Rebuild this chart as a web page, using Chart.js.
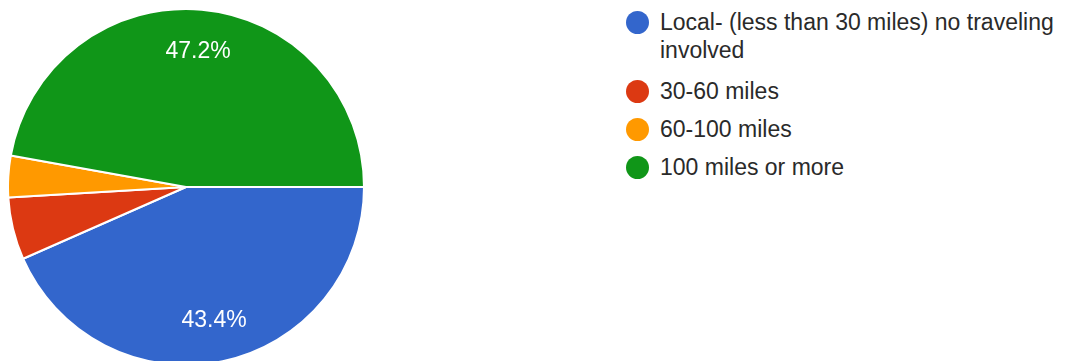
<!DOCTYPE html>
<html>
<head>
<meta charset="utf-8">
<script src="https://cdn.jsdelivr.net/npm/chart.js@4"></script>
<style>
  html, body { margin: 0; padding: 0; background: #fff; overflow: hidden; }
  body { width: 1079px; height: 361px; position: relative; font-family: "Liberation Sans", Arial, sans-serif; }
  #pieBox { position: absolute; left: 7px; top: 8px; width: 358px; height: 358px; }
  #legend { position: absolute; left: 625px; top: 8px; width: 450px; margin: 0; padding: 0; list-style: none; }
  #legend li { position: relative; padding-left: 35px; font-size: 23px; line-height: 28px; color: #2a2a2a; margin-bottom: 10px; }
  #legend li:first-child { margin-bottom: 13px; }
  #legend li span { position: absolute; left: 1px; top: 3px; width: 23px; height: 23px; border-radius: 50%; }
</style>
</head>
<body>
<div id="pieBox"><canvas id="myChart" width="358" height="358"></canvas></div>
<ul id="legend"></ul>
<script>
    // Dữ liệu biểu đồ
    var labels = ['Local- (less than 30 miles) no traveling involved', '30-60 miles', '60-100 miles', '100 miles or more'];
    var counts = [23, 3, 2, 25];
    var colors = ['#3366cc', '#dc3912', '#ff9900', '#109618'];

    var total = counts.reduce((a, b) => a + b, 0);

    // Plugin vẽ phần trăm lên lát bánh
    const percentLabels = {
        id: 'percentLabels',
        afterDatasetsDraw(chart) {
            const ctx = chart.ctx;
            const meta = chart.getDatasetMeta(0);
            ctx.save();
            ctx.fillStyle = '#ffffff';
            ctx.font = '23px "Liberation Sans", Arial, sans-serif';
            ctx.textAlign = 'center';
            ctx.textBaseline = 'middle';
            meta.data.forEach((arc, i) => {
                const pct = counts[i] / total * 100;
                if (pct < 10) return;
                const p = arc.getProps(['x', 'y', 'startAngle', 'endAngle', 'outerRadius'], true);
                const mid = (p.startAngle + p.endAngle) / 2;
                const r = p.outerRadius * 0.765;
                ctx.fillText(pct.toFixed(1) + '%', p.x + Math.cos(mid) * r, p.y + Math.sin(mid) * r);
            });
            ctx.restore();
        }
    };

    const ctx = document.getElementById('myChart');
    new Chart(ctx, {
        type: 'pie',
        data: {
            labels: labels,
            datasets: [{
                data: counts,
                backgroundColor: colors,
                borderColor: '#ffffff',
                borderWidth: 2
            }]
        },
        options: {
            responsive: false,
            animation: false,
            rotation: 90,
            layout: { padding: 0 },
            plugins: {
                legend: { display: false },
                tooltip: { enabled: false }
            }
        },
        plugins: [percentLabels]
    });

    // Chú thích HTML
    var legendEl = document.getElementById('legend');
    labels.forEach((name, i) => {
        var li = document.createElement('li');
        var dot = document.createElement('span');
        dot.style.background = colors[i];
        li.appendChild(dot);
        li.appendChild(document.createTextNode(name));
        legendEl.appendChild(li);
    });
</script>
</body>
</html>
